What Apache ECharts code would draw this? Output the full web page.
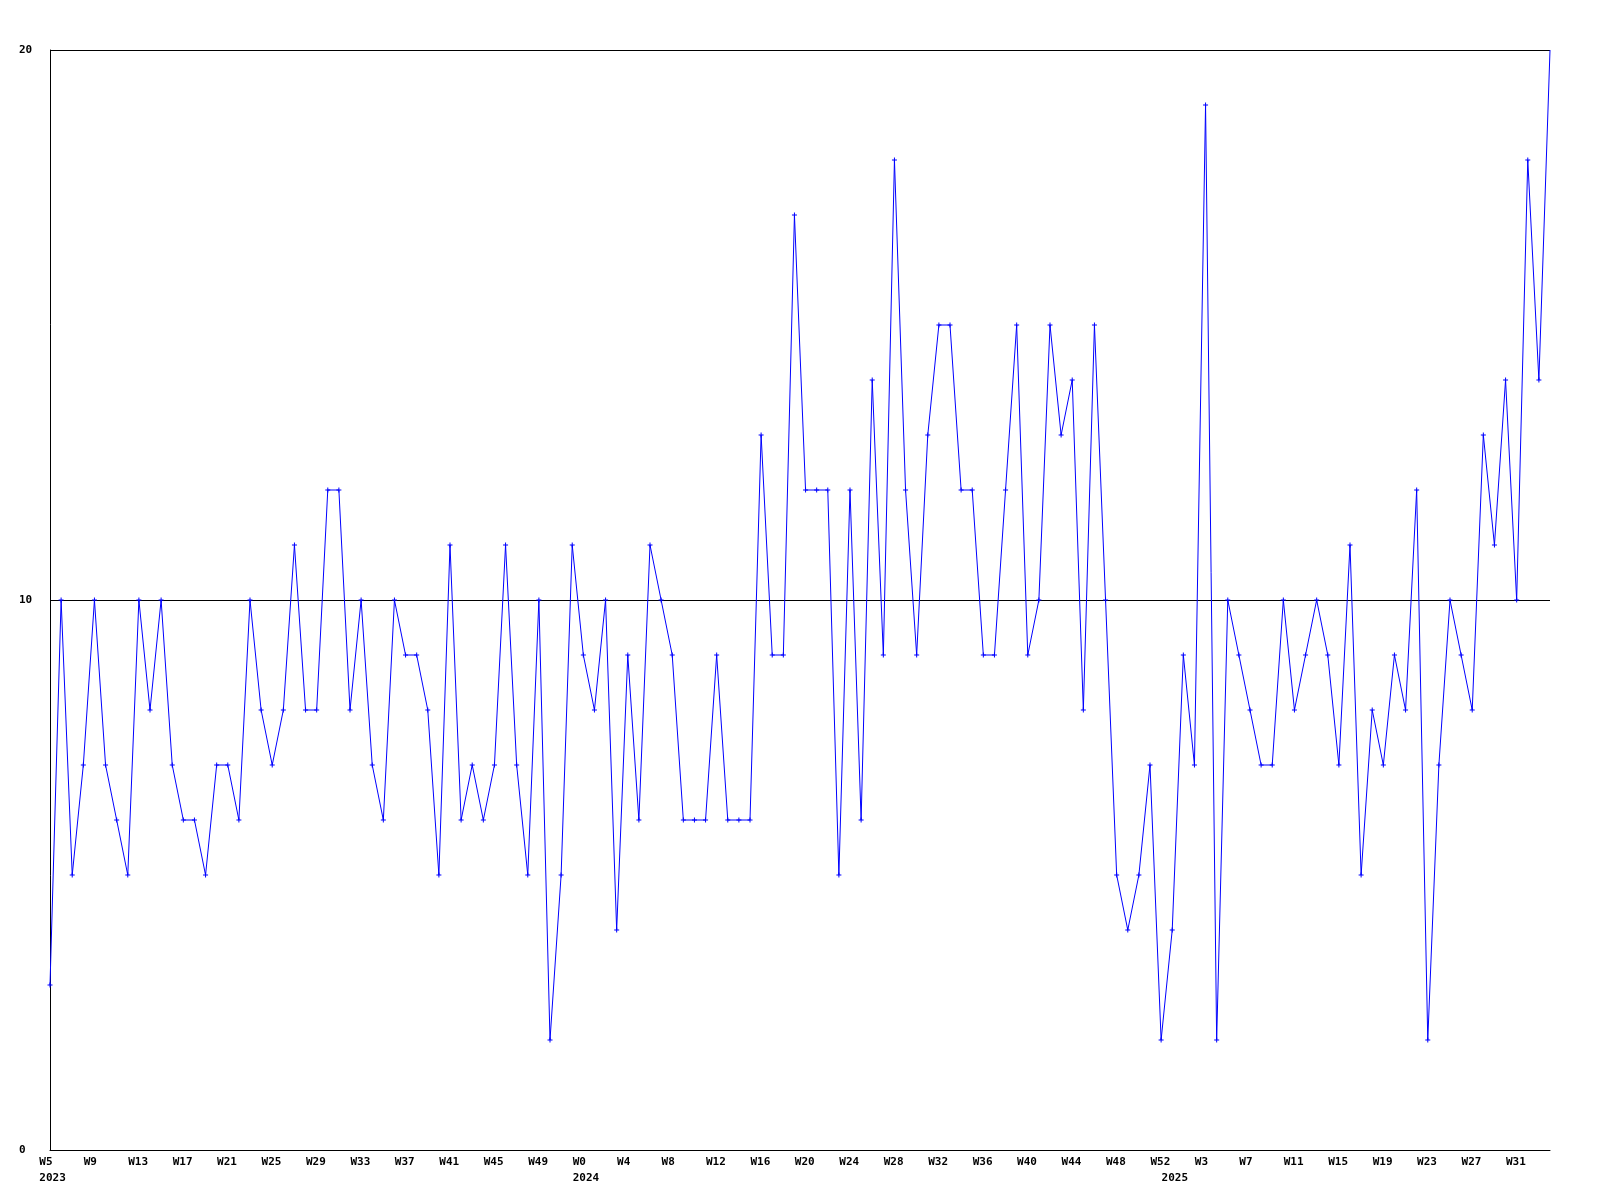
<!DOCTYPE html>
<html>
<head>
<meta charset="utf-8">
<script src="https://cdn.jsdelivr.net/npm/echarts@6/dist/echarts.min.js"></script>
<style>
html,body{margin:0;padding:0;background:#fff;}
#chart{width:1600px;height:1200px;}
</style>
</head>
<body>
<div id="chart"></div>
<script>
// Week ranges per year shown on the x axis
const years = [2023, 2024, 2025];
const firstWeek = [5, 0, 0];
const lastWeek = [52, 52, 34];

// Weekly values, W5 2023 .. W34 2025
const values2023 = [3, 10, 5, 7, 10, 7, 6, 5, 10, 8, 10, 7, 6, 6, 5, 7, 7, 6, 10, 8, 7, 8, 11, 8, 8, 12, 12, 8, 10, 7, 6, 10, 9, 9, 8, 5, 11, 6, 7, 6, 7, 11, 7, 5, 10, 2, 5, 11];
const values2024 = [9, 8, 10, 4, 9, 6, 11, 10, 9, 6, 6, 6, 9, 6, 6, 6, 13, 9, 9, 17, 12, 12, 12, 5, 12, 6, 14, 9, 18, 12, 9, 13, 15, 15, 12, 12, 9, 9, 12, 15, 9, 10, 15, 13, 14, 8, 15, 10, 5, 4, 5, 7, 2];
const values2025 = [4, 9, 7, 19, 2, 10, 9, 8, 7, 7, 10, 8, 9, 10, 9, 7, 11, 5, 8, 7, 9, 8, 12, 2, 7, 10, 9, 8, 13, 11, 14, 10, 18, 14, 20];

const yTicks = [0, 10, 20];

// Build categories
const categories = [];
const catYear = [];
const yearStart = {};
for (let k = 0; k < years.length; k++) {
  yearStart[categories.length] = String(years[k]);
  for (let w = firstWeek[k]; w <= lastWeek[k]; w++) {
    categories.push('W' + w);
    catYear.push(years[k]);
  }
}
const allValues = values2023.concat(values2024, values2025);
const seriesData = allValues.map((v, i) => i === allValues.length - 1 ? {value: v, symbol: 'none'} : v);

const FONT = 'DejaVu Sans Mono';
const plusPath = 'path://M2,0 L3,0 L3,2 L5,2 L5,3 L3,3 L3,5 L2,5 L2,3 L0,3 L0,2 L2,2 Z';

const chart = echarts.init(document.getElementById('chart'), null, {renderer: 'canvas'});
chart.setOption({
  animation: false,
  backgroundColor: '#ffffff',
  grid: {left: 50, right: 50, top: 50, bottom: 50, containLabel: false},
  xAxis: [{
    type: 'category',
    data: categories,
    boundaryGap: false,
    position: 'bottom',
    axisLine: {show: true, onZero: false, lineStyle: {color: '#000', width: 1}},
    axisTick: {show: false},
    splitLine: {show: false},
    axisLabel: {
      interval: 3,
      margin: 7,
      align: 'center',
      formatter: v => '{a|' + v + '}',
      rich: {a: {width: 21.4, align: 'left', fontFamily: FONT, fontWeight: 'bold', fontSize: 11, color: '#000'}}
    }
  }, {
    type: 'category',
    data: categories,
    boundaryGap: false,
    position: 'bottom',
    offset: 16,
    axisLine: {show: false},
    axisTick: {show: false},
    splitLine: {show: false},
    axisLabel: {
      interval: (idx) => yearStart[idx] !== undefined,
      margin: 7,
      align: 'center',
      formatter: (v, idx) => '{a|' + yearStart[idx] + '}',
      rich: {a: {width: 21.4, align: 'left', fontFamily: FONT, fontWeight: 'bold', fontSize: 11, color: '#000'}}
    }
  }],
  yAxis: {
    type: 'value',
    min: yTicks[0],
    max: yTicks[yTicks.length - 1],
    interval: 10,
    axisLine: {show: true, lineStyle: {color: '#000', width: 1}},
    axisTick: {show: false},
    splitLine: {show: true, lineStyle: {color: '#000', width: 1}},
    axisLabel: {
      align: 'left',
      margin: 31,
      fontFamily: FONT,
      fontWeight: 'bold',
      fontSize: 11,
      color: '#000'
    }
  },
  series: [{
    type: 'line',
    xAxisIndex: 0,
    data: seriesData,
    symbol: plusPath,
    symbolSize: 5,
    showAllSymbol: true,
    lineStyle: {color: '#0000ff', width: 1},
    itemStyle: {color: '#0000ff'},
    emphasis: {disabled: true}
  }]
});
</script>
</body>
</html>
